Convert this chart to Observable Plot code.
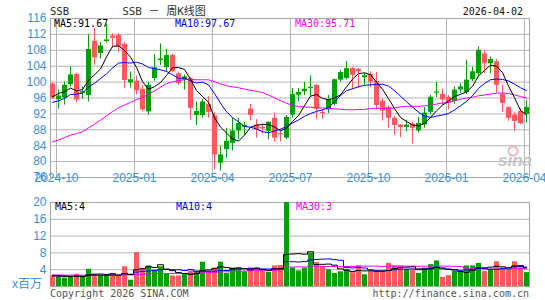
<!DOCTYPE html>
<html><head><meta charset="utf-8">
<script src="https://cdn.jsdelivr.net/npm/d3@7"></script>
<script src="https://cdn.jsdelivr.net/npm/@observablehq/plot@0.6"></script>
<style>
body{margin:0;background:#fff;}
#wrap{position:relative;width:545px;height:300px;overflow:hidden;background:#fff;}
#wrap svg{position:absolute;left:0;top:0;}
</style></head><body><div id="wrap"></div>
<script>
// ---- data (weekly candles, week index 0 = 2024-09-23 ... 79 = 2026-03-30) ----
const priceOpen  = [99.5,95.6,96.0,99.4,101.9,97.2,96.6,110.3,107.2,110.2,111.6,111.8,109.5,99.8,100.2,98.2,92.5,100.9,105.4,103.6,
                    106.7,102.1,100.5,100.9,91.6,91.6,94.4,91.5,79.6,83.0,84.6,87.7,88.6,93.2,89.2,88.6,87.6,90.9,87.0,85.9,
                    91.7,96.7,97.6,98.4,99.2,92.3,93.0,94.4,100.5,100.9,103.4,103.2,101.1,101.9,100.2,95.2,93.6,90.9,89.2,88.6,
                    89.4,87.7,89.2,92.4,97.2,96.9,96.1,95.1,98.0,97.4,100.6,102.1,107.1,104.6,105.1,96.9,93.6,91.7,92.6,91.9];
const priceHigh  = [99.9,98.0,100.0,103.8,102.2,98.8,112.0,113.4,110.0,114.6,112.2,112.2,110.0,102.5,101.5,99.2,100.0,106.9,109.6,108.2,
                    107.0,102.6,101.8,101.2,95.0,95.6,96.3,92.4,83.8,88.4,90.9,90.9,89.9,94.4,90.6,89.5,90.0,92.2,88.0,91.6,
                    98.4,98.4,99.9,101.6,99.4,93.0,96.7,100.8,103.0,105.2,103.6,103.4,102.2,102.6,102.4,95.8,94.0,91.3,89.3,90.4,
                    89.9,91.1,93.6,96.6,99.9,98.2,96.6,98.8,99.6,105.5,103.8,108.8,108.0,106.3,105.7,99.2,93.8,92.3,93.4,95.3];
const priceLow   = [95.6,93.2,94.2,98.8,94.8,95.6,95.0,104.2,105.8,109.8,108.5,107.5,98.4,98.5,96.8,92.6,91.6,100.2,104.2,102.6,
                    102.3,99.2,98.0,90.5,89.1,90.9,90.9,77.9,77.6,80.9,82.7,85.5,86.5,90.2,85.9,87.0,85.5,84.9,84.9,85.5,
                    90.9,95.1,96.6,96.3,90.7,90.7,92.1,94.0,100.0,100.5,98.2,98.4,99.2,98.6,93.0,90.2,88.4,86.7,86.0,87.5,
                    84.4,87.2,88.4,91.8,96.1,94.2,93.0,94.4,97.2,96.9,100.1,101.5,102.1,102.1,97.2,92.4,90.1,87.6,89.3,89.7];
const priceClose = [96.0,96.5,99.2,101.8,95.5,97.6,108.2,106.1,109.1,110.6,111.0,108.8,100.4,100.6,97.8,93.0,99.2,103.6,105.8,106.7,
                    102.6,99.6,101.3,93.4,92.6,95.0,92.4,81.7,81.7,85.1,87.7,89.6,89.1,91.6,88.0,88.2,89.9,85.9,86.7,91.1,
                    96.9,97.4,98.2,98.7,93.2,92.1,95.5,100.6,102.4,103.4,101.7,102.6,101.6,100.0,94.1,92.7,90.9,89.1,88.6,89.2,
                    88.4,89.6,92.2,96.2,97.5,95.5,94.8,98.0,98.8,100.5,102.6,108.0,104.6,105.7,99.2,94.6,90.9,90.1,89.5,93.6];
const volume     = [2.5,2.3,2.0,2.3,2.9,2.4,4.1,2.9,2.5,2.5,3.1,2.5,4.7,1.5,8.1,4.3,4.9,3.9,4.7,2.9,
                    2.5,2.5,2.9,3.7,3.7,5.8,3.6,4.4,5.8,3.1,4.4,4.4,3.5,4.4,4.4,3.7,3.4,4.9,5.0,21.0,
                    4.4,3.7,4.4,7.9,5.7,4.7,4.0,3.1,3.5,4.1,3.3,4.9,2.8,3.6,3.6,3.6,5.5,4.9,4.9,4.1,
                    4.0,3.1,4.4,5.2,6.1,2.2,2.6,3.6,3.4,4.9,4.9,5.5,3.6,4.1,5.9,4.4,4.1,5.9,4.5,3.3];
// weeks before the first visible candle (needed for the moving averages)
const priorClose  = [81,82,83,84,83,80,78,78,78,79,80,80,80,77,77,76,77,78,80,88,
                     92.5,93.2,91.8,95,95,92.3,97.1,97.1,99];
const priorVolume = [2.8,3.0,2.6,2.9,3.2,2.7,2.5,3.1,2.6,2.8,2.9,2.4,2.7,3.0,3.3,2.8,2.6,2.9,3.1,2.7,
                     2.6,2.8,3.0,2.5,2.7,2.6,2.4,2.5,2.7];
const priceTicks  = [76,80,84,88,92,96,100,104,108,112,116];
const volTicks    = [4,8,12,16,20];
const monthLabels = ["2024-10","2025-01","2025-04","2025-07","2025-10","2026-01","2026-04"];
const monthWeek   = [1,14,27,40,53,66,79];
const maLabels    = ["MA5:91.67","MA10:97.67","MA30:95.71"];
const volMaLabels = ["MA5:4","MA10:4","MA30:3"];

// ---- styling ----
const RED = "#ff5959", GREEN = "#00a000", AXIS = "#3a90d8", GRID = "#b4b4b4";
const MA_COL = ["#000000","#0000ff","#ff00ff"];
const SANS = "'Liberation Sans', Arial, sans-serif";
const MONO = "'DejaVu Sans Mono','Liberation Mono',monospace";

const candles = priceOpen.map((o,i)=>({i, o, h:priceHigh[i], l:priceLow[i], c:priceClose[i], v:volume[i],
  col: priceClose[i] >= o ? GREEN : RED}));
function movingAvg(prior, series, n){
  const all = prior.concat(series), off = prior.length;
  return series.map((_, i) => ({i, v: d3.mean(all.slice(off+i-n+1, off+i+1))}));
}
const pMA = [5,10,30].map(n => movingAvg(priorClose, priceClose, n));
const vMA = [5,10,30].map(n => movingAvg(priorVolume, volume, n));
const xDom = [-1/3, 79.5];

const pricePlot = Plot.plot({
  width:545, height:300, marginLeft:50, marginRight:16, marginTop:18, marginBottom:123,
  x:{domain:xDom, axis:null}, y:{domain:[76,116], axis:null},
  color:{type:"identity"},
  style:{background:"transparent", color:AXIS, fontFamily:SANS, fontSize:"12px"},
  marks:[
    Plot.ruleY(priceTicks, {stroke:GRID}),
    Plot.ruleX(monthWeek, {x:d=>d-1/3, stroke:GRID}),
    Plot.frame({stroke:"#a6a6a6"}),
    Plot.ruleX(candles, {x:"i", y1:"l", y2:"h", stroke:"col", clip:true}),
    Plot.ruleX(candles, {x:"i", y1:d=>Math.min(d.o,d.c), y2:d=>Math.max(d.o,d.c,Math.min(d.o,d.c)+0.25),
      stroke:"col", strokeWidth:5, clip:true}),
    ...pMA.slice().reverse().map((m,k)=>Plot.line(m, {x:"i", y:"v", stroke:MA_COL[2-k], strokeWidth:1, clip:true})),
    Plot.axisY(priceTicks, {anchor:"left", tickSize:0, tickPadding:4, fontSize:12, label:null}),
    Plot.text(monthWeek, {x:d=>d-1/3, frameAnchor:"bottom", dy:4, text:(d,k)=>monthLabels[k], fontSize:12, fill:AXIS})
  ]
});

const volPlot = Plot.plot({
  width:545, height:300, marginLeft:50, marginRight:16, marginTop:202, marginBottom:14,
  x:{domain:xDom, axis:null}, y:{domain:[0,20], axis:null},
  color:{type:"identity"},
  style:{background:"transparent", color:AXIS, fontFamily:SANS, fontSize:"12px"},
  marks:[
    Plot.ruleY(volTicks, {stroke:GRID}),
    Plot.frame({stroke:"#a6a6a6"}),
    Plot.ruleX(candles, {x:"i", y1:0, y2:"v", stroke:"col", strokeWidth:5, clip:true}),
    ...vMA.slice().reverse().map((m,k)=>Plot.line(m, {x:"i", y:"v", stroke:MA_COL[2-k], strokeWidth:1, curve:"step", clip:true})),
    Plot.axisY(volTicks, {anchor:"left", tickSize:0, tickPadding:4, fontSize:12, label:null})
  ]
});

const wrap = document.getElementById("wrap");
wrap.appendChild(pricePlot);
wrap.appendChild(volPlot);

// ---- text overlay ----
const svg = d3.select(wrap).append("svg").attr("width",545).attr("height",300);
const labelX = [54,175,295];
const texts = [
  {x:50, y:15, t:"SSB", f:"#222", ff:MONO, s:10.5},
  {x:164, y:15, t:"SSB － 周K线图", f:"#333", ff:MONO+",'Noto Sans CJK SC'", s:11, a:"middle"},
  {x:523, y:15, t:"2026-04-02", f:"#111", ff:MONO, s:10, a:"end"},
  ...maLabels.map((t,k)=>({x:labelX[k], y:27, t, f:MA_COL[k], ff:MONO, s:10})),
  ...volMaLabels.map((t,k)=>({x:labelX[k]+1, y:210, t, f:MA_COL[k], ff:MONO, s:10})),
  {x:12, y:288, t:"x百万", f:AXIS, ff:SANS+",'Noto Sans CJK SC'", s:12},
  {x:50, y:297, t:"Copyright 2026 SINA.COM", f:"#555", ff:MONO, s:10},
  {x:529, y:297, t:"http://finance.sina.com.cn", f:"#555", ff:MONO, s:10, a:"end"}
];
svg.selectAll("text.lab").data(texts).join("text").attr("class","lab")
  .attr("x",d=>d.x).attr("y",d=>d.y).attr("fill",d=>d.f).attr("font-family",d=>d.ff)
  .attr("font-size",d=>d.s).attr("text-anchor",d=>d.a||"start").text(d=>d.t);
// sina watermark
svg.append("circle").attr("cx",513).attr("cy",151).attr("r",4.5).attr("fill","none").attr("stroke","#f2b8b8").attr("stroke-width",2);
svg.append("text").attr("x",498).attr("y",166).attr("fill","#c4c4c4").attr("font-family",SANS)
  .attr("font-size",17).attr("font-weight","bold").attr("font-style","italic").text("sina");
</script></body></html>
